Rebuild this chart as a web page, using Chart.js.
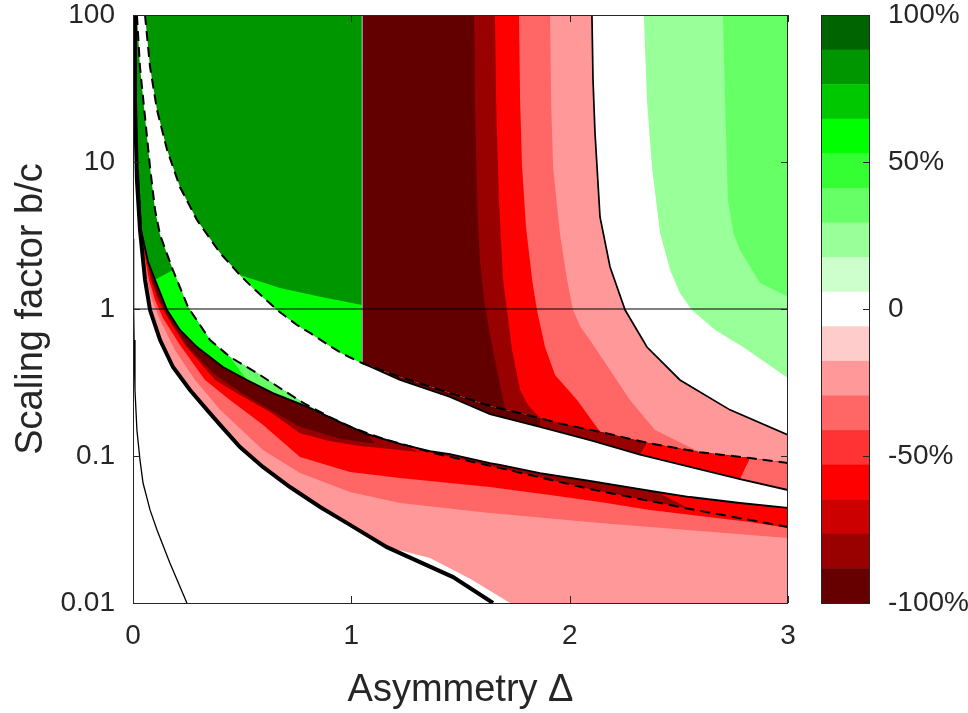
<!DOCTYPE html>
<html>
<head>
<meta charset="utf-8">
<script src="https://cdn.jsdelivr.net/npm/chart.js@4.4.1/dist/chart.umd.min.js"></script>
<style>
    html, body { margin: 0; padding: 0; background: #fff; }
    #wrap { width: 968px; height: 713px; }
</style>
</head>
<body>
<div id="wrap"><canvas id="chart" width="968" height="713"></canvas></div>
<script>
// ---- data (x = asymmetry, y = scaling factor b/c) ----
const xTickValues = [0, 1, 2, 3];
const yTickValues = [0.01, 0.1, 1, 10, 100];
const cbTickValues = [-100, -50, 0, 50, 100];

// colormap, top (100%) to bottom (-100%)
const levelColors = ['#006400', '#009600', '#00c800', '#00ff00', '#33ff33', '#66ff66', '#99ff99', '#ccffcc',
    '#ffffff', '#ffcccc', '#ff9999', '#ff6666', '#ff3333', '#ff0000', '#cc0000', '#990000', '#660000'];

// thick solid curve
const curveF = [[0.005, 100], [0.009, 26.4], [0.018, 7.54], [0.032, 3.45], [0.055, 1.58], [0.078, 0.984],
    [0.124, 0.615], [0.183, 0.403], [0.261, 0.281], [0.339, 0.206], [0.399, 0.163], [0.49, 0.115],
    [0.595, 0.0842], [0.719, 0.0615], [0.857, 0.045], [0.994, 0.034], [1.163, 0.024], [1.466, 0.015], [1.649, 0.01]];
// thin solid curve near the y axis
const curveE = [[0.002, 3.0], [0.003, 1.0], [0.005, 0.615], [0.009, 0.281], [0.018, 0.15], [0.032, 0.094],
    [0.046, 0.0655], [0.078, 0.043], [0.11, 0.0314], [0.169, 0.0187], [0.247, 0.01]];
// upper dashed curve
const curveD2 = [[0.055, 100], [0.078, 44.3], [0.110, 22.6], [0.156, 12.1], [0.215, 6.76], [0.293, 4.03],
    [0.399, 2.40], [0.490, 1.70], [0.550, 1.39], [0.660, 0.984], [0.751, 0.778], [0.811, 0.687], [0.902, 0.560],
    [0.962, 0.494], [1.049, 0.429], [1.223, 0.345], [1.452, 0.268], [1.635, 0.219], [1.864, 0.181], [1.942, 0.168],
    [2.139, 0.146], [2.354, 0.123], [2.597, 0.106], [2.826, 0.0969], [3.0, 0.0896]];
// upper solid curve (right of the vertical break)
const curveG = [[1.049, 0.429], [1.223, 0.329], [1.452, 0.252], [1.635, 0.193], [1.864, 0.158], [2.093, 0.128],
    [2.322, 0.102], [2.551, 0.0842], [2.780, 0.0697], [3.0, 0.0587]];
// lower solid curve
const curveH = [[0.023, 8.82], [0.037, 3.45], [0.069, 2.09], [0.101, 1.58], [0.156, 0.984], [0.215, 0.720],
    [0.293, 0.551], [0.412, 0.403], [0.522, 0.329], [0.641, 0.268], [0.765, 0.226], [0.811, 0.212], [0.948, 0.170],
    [1.072, 0.141], [1.223, 0.121], [1.360, 0.108], [1.452, 0.103], [1.635, 0.0896], [1.681, 0.0869],
    [1.864, 0.0766], [2.093, 0.0676], [2.322, 0.0596], [2.400, 0.0569], [2.551, 0.0526], [2.780, 0.0479], [3.0, 0.0443]];
// lower dashed curve
const curveD1 = [[0.018, 100], [0.032, 44.3], [0.055, 20.2], [0.078, 9.25], [0.101, 4.72], [0.124, 3.19],
    [0.183, 1.84], [0.252, 1.03], [0.353, 0.615], [0.444, 0.472], [0.568, 0.367], [0.687, 0.281], [0.788, 0.226],
    [0.902, 0.184], [1.008, 0.155], [1.145, 0.131], [1.374, 0.105], [1.557, 0.0910], [1.681, 0.0829],
    [2.093, 0.0596], [2.551, 0.0436], [3.0, 0.0329]];
// right solid curve (edge of the upper white zone)
const curveA = [[2.102, 100], [2.107, 36.1], [2.116, 15.8], [2.139, 4.23], [2.185, 1.93], [2.254, 0.984],
    [2.354, 0.551], [2.505, 0.329], [2.734, 0.206], [3.0, 0.139]];

// contour edges, lower family (between thick curve and H)
const edgeQ1 = [[0.032, 3.19], [0.046, 2.33], [0.064, 1.58], [0.087, 1.15], [0.124, 0.842], [0.192, 0.526],
    [0.284, 0.329], [0.399, 0.206], [0.595, 0.110], [0.765, 0.0766], [0.994, 0.0569], [1.223, 0.0479],
    [1.635, 0.0410], [2.139, 0.0350], [2.597, 0.0309], [3.0, 0.0277]];
const edgeQ2 = [[0.037, 3.19], [0.055, 2.22], [0.073, 1.58], [0.101, 1.15], [0.137, 0.869], [0.215, 0.569],
    [0.330, 0.329], [0.444, 0.240], [0.595, 0.163], [0.765, 0.0985], [0.994, 0.0778], [1.223, 0.0708],
    [1.635, 0.0615], [1.910, 0.0543], [2.139, 0.0487], [2.368, 0.0429], [2.597, 0.0391], [2.826, 0.0356], [3.0, 0.0324]];
const edgeQ3 = [[0.037, 3.29], [0.060, 2.29], [0.082, 1.58], [0.115, 1.15], [0.160, 0.869], [0.238, 0.569],
    [0.376, 0.329], [0.490, 0.260], [0.628, 0.199], [0.765, 0.143], [0.902, 0.126], [1.040, 0.117],
    [1.223, 0.110], [1.315, 0.106]];
const edgeQ4 = [[0.037, 3.34], [0.069, 2.02], [0.087, 1.58], [0.124, 1.12], [0.169, 0.842], [0.252, 0.551],
    [0.362, 0.373], [0.490, 0.272], [0.628, 0.206], [0.765, 0.158], [0.948, 0.131], [1.108, 0.121]];
const pinkEdge = [[1.727, 0.01], [1.544, 0.0146], [1.36, 0.0202]];

// contour edges, upper right family
const edgeU1 = [[1.562, 100], [1.566, 26.4], [1.576, 5.51], [1.589, 2.15], [1.608, 1.15], [1.631, 0.720],
    [1.658, 0.450], [1.681, 0.304], [1.704, 0.209]];
const edgeU2 = [[1.658, 100], [1.663, 26.4], [1.676, 5.51], [1.695, 1.58], [1.713, 0.984], [1.736, 0.526],
    [1.773, 0.281], [1.809, 0.222], [1.864, 0.181]];
const edgeU3 = [[1.768, 100], [1.773, 26.4], [1.782, 9.25], [1.800, 3.61], [1.828, 1.58], [1.850, 0.984],
    [1.887, 0.551], [1.933, 0.356], [2.034, 0.240], [2.139, 0.146]];
const edgeU4 = [[1.910, 100], [1.915, 26.4], [1.924, 9.25], [1.955, 3.29], [1.988, 1.58], [2.015, 0.984],
    [2.050, 0.754], [2.093, 0.615], [2.185, 0.385], [2.276, 0.240], [2.391, 0.150], [2.597, 0.106]];
const edgeV1 = [[2.340, 100], [2.354, 26.4], [2.377, 9.25], [2.414, 3.29], [2.460, 1.84], [2.505, 1.28],
    [2.560, 0.984], [2.666, 0.720], [2.794, 0.551], [3.0, 0.339]];
const edgeV2 = [[2.702, 100], [2.712, 26.4], [2.725, 5.51], [2.750, 3.29], [2.780, 2.52], [2.872, 1.50], [3.0, 1.21]];
const wedgeTop = [[0.490, 1.70], [0.673, 1.39], [0.857, 1.21], [1.05, 1.065]];

const unityLine = [[0, 1], [3, 1]];
const breakLine = [[1.05, 100], [1.05, 0.429]];

// ---- helpers ----
const TOP = 100;
const BOTTOM = 0.01;
const XMAX = 3;
const inRange = (pts, lo, hi) => pts.filter(([x]) => x >= lo && x <= hi);
const backward = (pts, lo, hi) => inRange(pts, lo, hi).reverse();

const regions = [
    // lower family
    [[...curveH, [XMAX, BOTTOM], ...pinkEdge, ...backward(curveF, 0, 1.163).filter(([, y]) => y <= 8.82)], '#ff9999'],
    [[...curveH, ...backward(edgeQ1, 0, 3)], '#ff6666'],
    [[...curveH, ...backward(edgeQ2, 0, 3)], '#ff0000'],
    [[...inRange(curveH, 0, 1.223), ...backward(edgeQ3, 0, 3)], '#990000'],
    [[...inRange(curveH, 0, 1.072), ...backward(edgeQ4, 0, 3)], '#620000'],
    // strip between D1 and H
    [[...inRange(curveD1, 0, 0.902), ...backward(curveH, 0, 0.948), ...backward(curveF, 0, 0.01)], '#009600'],
    [[...inRange(curveD1, 0.183, 0.902), ...backward(curveH, 0.101, 0.948)], '#00ff00'],
    [[...inRange(curveD1, 0.444, 0.902), ...backward(curveH, 0.522, 0.948)], '#66ff66'],
    [[...inRange(curveH, 1.072, 3), ...backward(curveD1, 1.008, 3)], '#990000'],
    [[...inRange(curveH, 2.4, 3), ...backward(curveD1, 2.551, 3)], '#ff0000'],
    // upper left
    [[...inRange(curveD2, 0, 1.049), [1.05, TOP]], '#009600'],
    [[...wedgeTop, ...backward(curveD2, 0.49, 1.049)], '#00ff00'],
    // upper right
    [[[1.05, TOP], [XMAX, TOP], ...backward(curveD2, 1.049, 3)], '#620000'],
    [[...edgeU1, ...inRange(curveD2, 1.705, 3), [XMAX, TOP]], '#990000'],
    [[...edgeU2, ...inRange(curveD2, 1.865, 3), [XMAX, TOP]], '#ff0000'],
    [[...edgeU3, ...inRange(curveD2, 2.14, 3), [XMAX, TOP]], '#ff6666'],
    [[...edgeU4, ...inRange(curveD2, 2.6, 3), [XMAX, TOP]], '#ff9999'],
    [[...curveA, [XMAX, TOP]], '#ffffff'],
    [[...edgeV1, [XMAX, TOP]], '#99ff99'],
    [[...edgeV2, [XMAX, TOP]], '#66ff66'],
    // strip between D2 and G
    [[...inRange(curveD2, 1.049, 3), ...backward(curveG, 0, 3)], '#620000'],
    [[...inRange(curveD2, 1.864, 3), ...backward(curveG, 1.864, 3)], '#990000'],
    [[...inRange(curveD2, 2.354, 3), ...backward(curveG, 2.322, 3)], '#ff0000'],
    [[...inRange(curveD2, 2.826, 3), ...backward(curveG, 2.78, 3)], '#ff6666'],
];

const lines = [
    [breakLine, 1, null, 'rgba(150,150,150,0.8)'],
    [unityLine, 1.2, null, '#000'],
    [curveE, 1.3, null, '#000'],
    [curveA, 1.7, null, '#000'],
    [curveG, 1.8, null, '#000'],
    [curveH, 1.8, null, '#000'],
    [curveD1, 2, [10, 6], '#000'],
    [curveD2, 2, [10, 6], '#000'],
    [curveF, 4, null, '#000'],
];

const toXY = (pts) => pts.map(([x, y]) => ({ x, y }));

const datasets = [];
regions.forEach(([pts, color]) => {
    datasets.push({
        data: toXY(pts),
        backgroundColor: color,
        borderWidth: 0,
        fill: 'shape',
        pointRadius: 0,
        tension: 0,
    });
});
lines.forEach(([pts, width, dash, color]) => {
    datasets.push({
        data: toXY(pts),
        borderColor: color,
        borderWidth: width,
        borderDash: dash || [],
        fill: false,
        pointRadius: 0,
        tension: 0,
    });
});
// later datasets on top
datasets.forEach((d, i) => { d.order = -i; });

const textColor = '#262626';
const fontFamily = "'Liberation Sans', Arial, sans-serif";

// keep the plot box at fixed pixels: no extra padding from tick labels
const noPad = (s) => { s.paddingTop = 0; s.paddingBottom = 0; };

const frame = {
    id: 'frame',
    afterDraw(chart) {
        const { ctx, chartArea: a, scales } = chart;
        ctx.save();
        ctx.strokeStyle = textColor;
        ctx.lineWidth = 1;
        ctx.strokeRect(a.left + 0.5, a.top + 0.5, a.right - a.left - 1, a.bottom - a.top);

        ctx.beginPath();
        xTickValues.forEach((v) => {
            const px = Math.round(scales.x.getPixelForValue(v)) + 0.5;
            ctx.moveTo(px, a.bottom);
            ctx.lineTo(px, a.bottom - 7);
            ctx.moveTo(px, a.top);
            ctx.lineTo(px, a.top + 7);
        });
        yTickValues.forEach((v) => {
            const py = Math.round(scales.y.getPixelForValue(v)) + 0.5;
            ctx.moveTo(a.left, py);
            ctx.lineTo(a.left + 7, py);
            ctx.moveTo(a.right, py);
            ctx.lineTo(a.right - 7, py);
        });
        ctx.stroke();

        // colour bar
        const cb = scales.cb;
        const x0 = a.right + 33;
        const w = 48;
        const step = 200 / levelColors.length;
        levelColors.forEach((c, i) => {
            const y0 = cb.getPixelForValue(100 - i * step);
            const y1 = cb.getPixelForValue(100 - (i + 1) * step);
            ctx.fillStyle = c;
            ctx.fillRect(x0, y0, w, y1 - y0 + 0.5);
        });
        ctx.strokeRect(x0 + 0.5, cb.top + 0.5, w, cb.bottom - cb.top);
        ctx.beginPath();
        cbTickValues.forEach((v) => {
            const py = Math.round(cb.getPixelForValue(v)) + 0.5;
            ctx.moveTo(x0 + w, py);
            ctx.lineTo(x0 + w - 6, py);
        });
        ctx.stroke();
        ctx.restore();
    },
};

new Chart(document.getElementById('chart'), {
    type: 'line',
    data: { datasets },
    options: {
        responsive: false,
        animation: false,
        devicePixelRatio: 1,
        layout: { padding: { top: 15, left: 0, right: 0, bottom: 0 } },
        plugins: { legend: { display: false }, tooltip: { enabled: false } },
        font: { family: fontFamily },
        scales: {
            x: {
                type: 'linear',
                position: 'bottom',
                min: 0,
                max: 3,
                afterBuildTicks: (s) => { s.ticks = xTickValues.map((v) => ({ value: v })); },
                afterFit: (s) => { s.height = 110; s.paddingLeft = 0; s.paddingRight = 0; },
                grid: { display: false },
                border: { display: false },
                ticks: { color: textColor, font: { size: 28, family: fontFamily }, padding: 8, maxRotation: 0, autoSkip: false },
                title: { display: true, text: 'Asymmetry Δ', color: textColor, font: { size: 38, family: fontFamily }, padding: { top: 0, bottom: 0 } },
            },
            y: {
                type: 'logarithmic',
                position: 'left',
                min: 0.01,
                max: 100,
                afterBuildTicks: (s) => { s.ticks = yTickValues.map((v) => ({ value: v })); },
                afterFit: (s) => { s.width = 133; noPad(s); },
                grid: { display: false },
                border: { display: false },
                ticks: { color: textColor, font: { size: 28, family: fontFamily }, padding: 10, autoSkip: false, callback: (v) => String(v) },
                title: { display: true, text: 'Scaling factor b/c', color: textColor, font: { size: 38, family: fontFamily }, padding: { top: 9, bottom: 0 } },
            },
            cb: {
                type: 'linear',
                position: 'right',
                min: -100,
                max: 100,
                afterBuildTicks: (s) => { s.ticks = cbTickValues.map((v) => ({ value: v })); },
                afterFit: (s) => { s.width = 180; noPad(s); },
                grid: { display: false },
                border: { display: false },
                ticks: { color: textColor, font: { size: 28, family: fontFamily }, padding: 92, autoSkip: false, callback: (v) => (v === 0 ? '0' : v + '%') },
            },
        },
    },
    plugins: [frame],
});
</script>
</body>
</html>
